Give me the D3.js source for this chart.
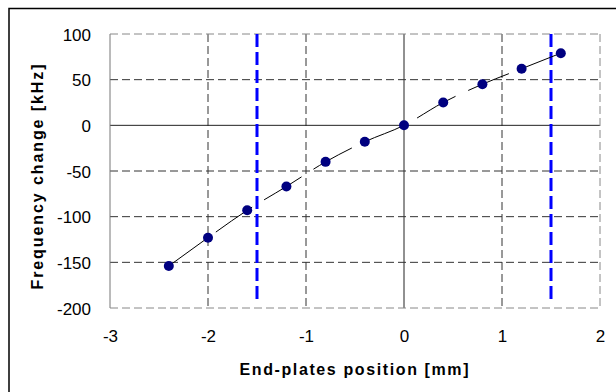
<!DOCTYPE html>
<html><head><meta charset="utf-8">
<script src="https://cdn.jsdelivr.net/npm/d3@7"></script>
<style>body{margin:0;background:#fff}svg{display:block}</style>
</head><body>
<script>
const positions = [-2.4, -2.0, -1.6, -1.2, -0.8, -0.4, 0, 0.4, 0.8, 1.2, 1.6];
const freqChange = [-154, -123, -93, -67, -40, -18, 0, 25, 45, 62, 79];
const limitLines = [-1.5, 1.5];
const xTicks = [-3, -2, -1, 0, 1, 2];
const yTicks = [-200, -150, -100, -50, 0, 50, 100];
const xLabel = "End-plates position [mm]";
const yLabel = "Frequency change [kHz]";

const W = 616, H = 392;
const svg = d3.select("body").append("svg").attr("width", W).attr("height", H);
const x = d3.scaleLinear().domain([-3, 2]).range([110, 600]);
const y = d3.scaleLinear().domain([-200, 100]).range([308, 34]);

// outer frame
svg.append("rect").attr("x", 9).attr("y", 8.5).attr("width", 640).attr("height", 420)
  .attr("fill", "none").attr("stroke", "#000").attr("stroke-width", 1.5);

const font = "Arial, 'Liberation Sans', sans-serif";
// grid
const g = svg.append("g");
xTicks.filter(t => t > -3 && t < 2).forEach(t => {
  g.append("line").attr("x1", x(t)).attr("x2", x(t)).attr("y1", y(100)).attr("y2", y(-200))
   .attr("stroke", t === 0 ? "#222" : "#333").attr("stroke-width", 1)
   .attr("stroke-dasharray", t === 0 ? null : "8,4");
});
yTicks.filter(t => t > -200 && t < 100).forEach(t => {
  g.append("line").attr("x1", x(-3)).attr("x2", x(2)).attr("y1", y(t)).attr("y2", y(t))
   .attr("stroke", t === 0 ? "#222" : "#333").attr("stroke-width", 1)
   .attr("stroke-dasharray", t === 0 ? null : "8,4");
});
// plot border
g.append("line").attr("x1", x(-3)).attr("x2", x(-3)).attr("y1", y(100)).attr("y2", y(-200)).attr("stroke", "#777");
[[x(-3), y(100), x(2), y(100)], [x(-3), y(-200), x(2), y(-200)], [x(2), y(100), x(2), y(-200)]].forEach(d => {
  g.append("line").attr("x1", d[0]).attr("y1", d[1]).attr("x2", d[2]).attr("y2", d[3])
   .attr("stroke", "#888").attr("stroke-dasharray", "8,4");
});

// axes tick labels
const fmt = d => String(d);
const xAxis = d3.axisBottom(x).tickValues(xTicks).tickSize(0).tickPadding(0).tickFormat(fmt);
const xa = svg.append("g").attr("transform", `translate(0,${y(-200)})`).call(xAxis);
xa.select(".domain").remove();
xa.selectAll("text").attr("y", 0).attr("dy", 34).attr("font-size", 17).attr("font-family", font).attr("fill", "#000");
const yAxis = d3.axisLeft(y).tickValues(yTicks).tickSize(0).tickPadding(0).tickFormat(fmt);
const ya = svg.append("g").attr("transform", `translate(91,0)`).call(yAxis);
ya.select(".domain").remove();
ya.selectAll("text").attr("x", 0).attr("dy", "0.36em").attr("font-size", 17).attr("font-family", font).attr("fill", "#000");

// blue limit lines
svg.selectAll(".lim").data(limitLines).join("line")
  .attr("x1", d => x(d)).attr("x2", d => x(d)).attr("y1", y(100)).attr("y2", 299)
  .attr("stroke", "#0000ff").attr("stroke-width", 3).attr("stroke-dasharray", "13,5");

// trend line
const pts = positions.map((p, i) => [p, freqChange[i]]);
svg.append("path").datum(pts)
  .attr("d", d3.line().x(d => x(d[0])).y(d => y(d[1])).curve(d3.curveMonotoneX))
  .attr("fill", "none").attr("stroke", "#000").attr("stroke-width", 1).attr("stroke-dasharray", "44,14");

// markers
svg.selectAll(".pt").data(pts).join("circle")
  .attr("cx", d => x(d[0])).attr("cy", d => y(d[1])).attr("r", 5).attr("fill", "#000080");

// labels
svg.append("text").attr("x", 354).attr("y", 374.5).attr("text-anchor", "middle")
  .attr("font-family", font).attr("font-weight", "bold").attr("font-size", 16)
  .attr("textLength", 229).attr("lengthAdjust", "spacing").text(xLabel);
svg.append("text").attr("transform", "translate(43,177) rotate(-90)").attr("text-anchor", "middle")
  .attr("font-family", font).attr("font-weight", "bold").attr("font-size", 16)
  .attr("textLength", 225).attr("lengthAdjust", "spacing").text(yLabel);
</script>
</body></html>
